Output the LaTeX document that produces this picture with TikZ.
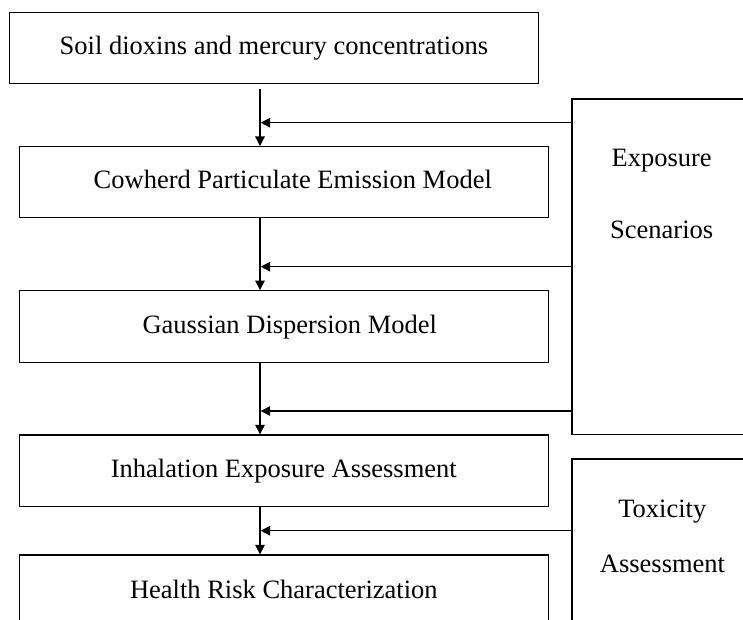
\documentclass[tikz,border=0pt]{standalone}
\usepackage{fontspec}
\setmainfont{Liberation Serif}
\usetikzlibrary{arrows.meta,calc}
\begin{document}
\begin{tikzpicture}[x=1pt,y=-1pt,
  box/.style={draw, line width=1.3pt, minimum width=529pt, inner sep=0pt, text height=19pt, text depth=5pt, font=\fontsize{26.5}{32}\selectfont},
  side/.style={draw, line width=1.3pt, inner sep=0pt, minimum width=188pt},
  lbl/.style={font=\fontsize{26.5}{32}\selectfont, anchor=base, inner sep=0pt},
  arr/.style={line width=1.3pt, -{Triangle[length=9.5pt,width=9.5pt]}}
]
\useasboundingbox (0,0) rectangle (743,620);
\clip (0,0) rectangle (743,620);
% main chain
\node[box, minimum height=71pt] (soil) at (273.9,47.8) {Soil dioxins and mercury concentrations};
\node[box, minimum height=70.7pt] (cow) at (283.8,182) {\hspace*{18pt}Cowherd Particulate Emission Model};
\node[box, minimum height=72pt] (gauss) at (283.8,326.7) {\hspace*{12pt}Gaussian Dispersion Model};
\node[box, minimum height=71.7pt] (inh) at (283.8,470.8) {Inhalation Exposure Assessment};
\node[box, minimum height=72pt] (hrc) at (283.8,591) {Health Risk Characterization};
% side boxes
\node[side, minimum height=335.3pt] (expo) at (666,266.65) {};
\node[side, minimum height=241pt] (tox) at (666,579.5) {};
\node[lbl] (expo1) at (661.7,166.7) {Exposure};
\node[lbl] (expo2) at (661.7,238.3) {Scenarios};
\node[lbl] (tox1) at (662.3,517.7) {Toxicity};
\node[lbl] (tox2) at (662.5,572.7) {Assessment};
% spine
\coordinate (spine) at (260,0);
\draw[arr] ($(spine |- soil.south)+(0,5)$) -- (spine |- cow.north);
\draw[arr] (spine |- cow.south) -- (spine |- gauss.north);
\draw[arr] (spine |- gauss.south) -- (spine |- inh.north);
\draw[arr] (spine |- inh.south) -- (spine |- hrc.north);
% feeds
\coordinate (f1) at (0,122.7);
\coordinate (f2) at (0,266.7);
\coordinate (f3) at (0,411);
\coordinate (f4) at (0,530.7);
\draw[arr] (expo.west |- f1) -- ($(spine |- f1)+(0.7,0)$);
\draw[arr] (expo.west |- f2) -- ($(spine |- f2)+(0.7,0)$);
\draw[arr] (expo.west |- f3) -- ($(spine |- f3)+(0.7,0)$);
\draw[arr] (tox.west |- f4) -- ($(spine |- f4)+(0.7,0)$);
\end{tikzpicture}
\end{document}
